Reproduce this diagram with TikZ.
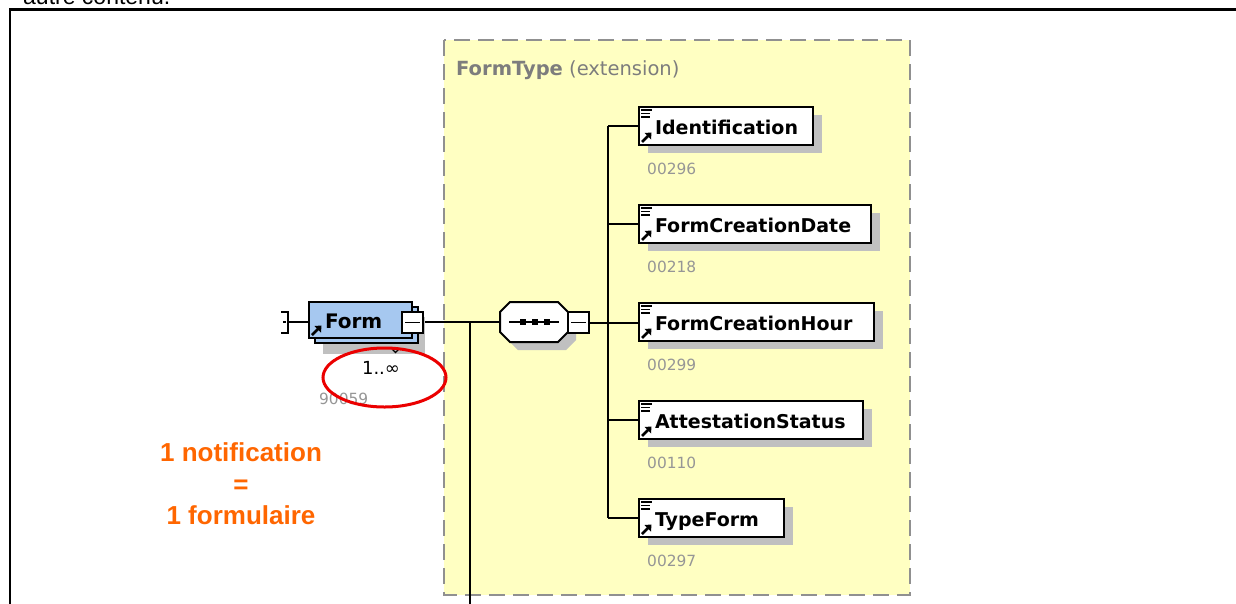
\documentclass[tikz,border=0pt]{standalone}
\usepackage{fontspec}
\setmainfont{DejaVu Sans}
\newfontfamily\arialf{Liberation Sans}
\usetikzlibrary{shadows}
\definecolor{ybg}{RGB}{255,255,194}
\definecolor{dashgray}{RGB}{144,144,144}
\definecolor{shgray}{RGB}{192,192,192}
\definecolor{formblue}{RGB}{166,200,240}
\definecolor{numgray}{RGB}{150,150,150}
\definecolor{titlegray}{RGB}{125,125,125}
\definecolor{orng}{RGB}{255,102,0}
\definecolor{ellred}{RGB}{235,0,0}
\begin{document}
\begin{tikzpicture}[x=1pt,y=-1pt,
  conn/.style={line width=2pt, black},
  elem/.style={draw=black, line width=2pt, fill=white, minimum height=38pt,
    inner xsep=16pt, inner ysep=0pt, text height=16pt, text depth=0pt,
    align=left, anchor=west, font=\fontsize{19}{22}\selectfont\bfseries,
    general shadow={fill=shgray, shadow xshift=9pt, shadow yshift=-8pt}},
  formbox/.style={draw=black, line width=2pt, fill=formblue, minimum height=36pt,
    minimum width=103pt, inner xsep=16pt, inner ysep=0pt, text height=16pt, text depth=0pt,
    text width=71pt, align=left, font=\fontsize{20}{22}\selectfont\bfseries},
  num/.style={anchor=base west, inner sep=0pt, text=numgray, font=\fontsize{15.4}{18}\selectfont},
  minusbox/.style={draw=black, line width=2pt, fill=white, minimum size=21pt, inner sep=0pt},
  icon/.style={line width=1.6pt, black},
  ishaft/.style={line width=2.6pt, black}
]
\useasboundingbox (0,0) rectangle (1236,603);
\clip (0,0) rectangle (1236,603);
\fill[white] (0,0) rectangle (1236,603);

% document text cut at the top and frame
\node[anchor=base west, inner sep=0pt, font=\arialf\fontsize{23}{26}\selectfont] (top) at (23,4) {autre contenu.};
\draw[line width=2.5pt] (10,620) -- (10,9.5) -- (1250,9.5);

% FormType extension box
\filldraw[fill=ybg, draw=dashgray, line width=2pt, dash pattern=on 16pt off 8pt] (444,40) rectangle (910,595);
\node[anchor=base west, inner sep=0pt, text=titlegray, font=\fontsize{19.5}{22}\selectfont] (title) at (456,75) {\textbf{FormType} (extension)};

% connectors
\coordinate (prev) at (288,322);
\coordinate (vt) at (470,322);
\coordinate (vb) at (470,615);
\coordinate (sp) at (608,322);
\node[minimum width=68pt, minimum height=40pt, inner sep=0pt] (seq) at (534,322) {};
\node[minimum width=103pt, minimum height=36pt, inner sep=0pt] (formpos) at (360.5,320) {};

\draw[line width=2pt] (281,312) -- (288,312) -- (288,333) -- (281,333);
\draw[line width=1.8pt] (283,322) -- (286,322);
\draw[conn] (prev) -- (prev -| formpos.west);
\draw[conn] (412.5,322) -- (seq.west);
\draw[conn] (vt) -- (vb);

% Form element (multiple occurrence)
\fill[shgray] (323,317) rectangle (425,354);
\node[formbox] (formback) at (366.5,324.5) {};
\node[formbox] (form) at (360.5,320) {Form};
\node[minusbox] (formm) at (412.5,322.5) {};
\draw[line width=1.8pt] ([xshift=4pt]formm.west) -- ([xshift=-4pt]formm.east);
\draw[ishaft] ([shift={(4,-4)}]form.south west) -- ([shift={(10,-10)}]form.south west);
\fill ([shift={(13.5,-13.5)}]form.south west) -- ([shift={(6.5,-13)}]form.south west) -- ([shift={(13,-6.5)}]form.south west) -- cycle;
\draw[line width=1.2pt] (392,349) -- (395.5,352.5) -- (399,349);

% sequence compositor
\fill[shgray, shift={(8,8)}] (510,302) -- (558,302) -- (568,312) -- (568,332) -- (558,342) -- (510,342) -- (500,332) -- (500,312) -- cycle;
\filldraw[fill=white, draw=black, line width=2pt] (510,302) -- (558,302) -- (568,312) -- (568,332) -- (558,342) -- (510,342) -- (500,332) -- (500,312) -- cycle;
\draw[line width=1.8pt] (509,322) -- (559,322);
\foreach \dx in {523,535,547} \fill (\dx-2.8,322-2.8) rectangle (\dx+2.8,322+2.8);
\node[minusbox] (seqm) at (578.5,322.5) {};
\draw[line width=1.8pt] ([xshift=4pt]seqm.west) -- ([xshift=-4pt]seqm.east);

% child elements
\node[elem, text width=142pt] (e1) at (638,126) {Identification};
\node[elem, text width=200pt] (e2) at (638,224) {FormCreationDate};
\node[elem, text width=203pt] (e3) at (638,322) {FormCreationHour};
\node[elem, text width=192pt] (e4) at (638,420) {AttestationStatus};
\node[elem, text width=113pt] (e5) at (638,518) {TypeForm};

\draw[conn] (seqm.east) -- (seqm.east -| e3.west);
\draw[conn] (sp |- e1.west) -- (sp |- e5.west);
\foreach \e in {e1,e2,e4,e5} \draw[conn] (sp |- \e.west) -- (\e.west);

\foreach \e in {e1,e2,e3,e4,e5} {
  \draw[icon] ([shift={(3,4)}]\e.north west) -- ++(11,0);
  \draw[icon] ([shift={(3,7.5)}]\e.north west) -- ++(9,0);
  \draw[icon] ([shift={(3,11)}]\e.north west) -- ++(9,0);
  \draw[ishaft] ([shift={(4,-4)}]\e.south west) -- ([shift={(10,-10)}]\e.south west);
  \fill ([shift={(13.5,-13.5)}]\e.south west) -- ([shift={(6.5,-13)}]\e.south west) -- ([shift={(13,-6.5)}]\e.south west) -- cycle;
}

\node[num] (n1) at (647,174) {00296};
\node[num] (n2) at (647,272) {00218};
\node[num] (n3) at (647,370) {00299};
\node[num] (n4) at (647,468) {00110};
\node[num] (n5) at (647,566) {00297};

% multiplicity and id of Form
\node[font=\fontsize{18}{20}\selectfont, inner sep=0pt] (mult) at (381,368) {1..∞};
\node[num] (fid) at (319,404) {90059};
\draw[ellred, line width=3pt] (384.5,377.5) ellipse [x radius=61.5, y radius=29.5];

% note
\node[font=\arialf\bfseries\fontsize{26}{31.5}\selectfont, text=orng, align=center, inner sep=0pt] (note) at (241,484) {1 notification\\=\\1 formulaire};
\end{tikzpicture}
\end{document}
